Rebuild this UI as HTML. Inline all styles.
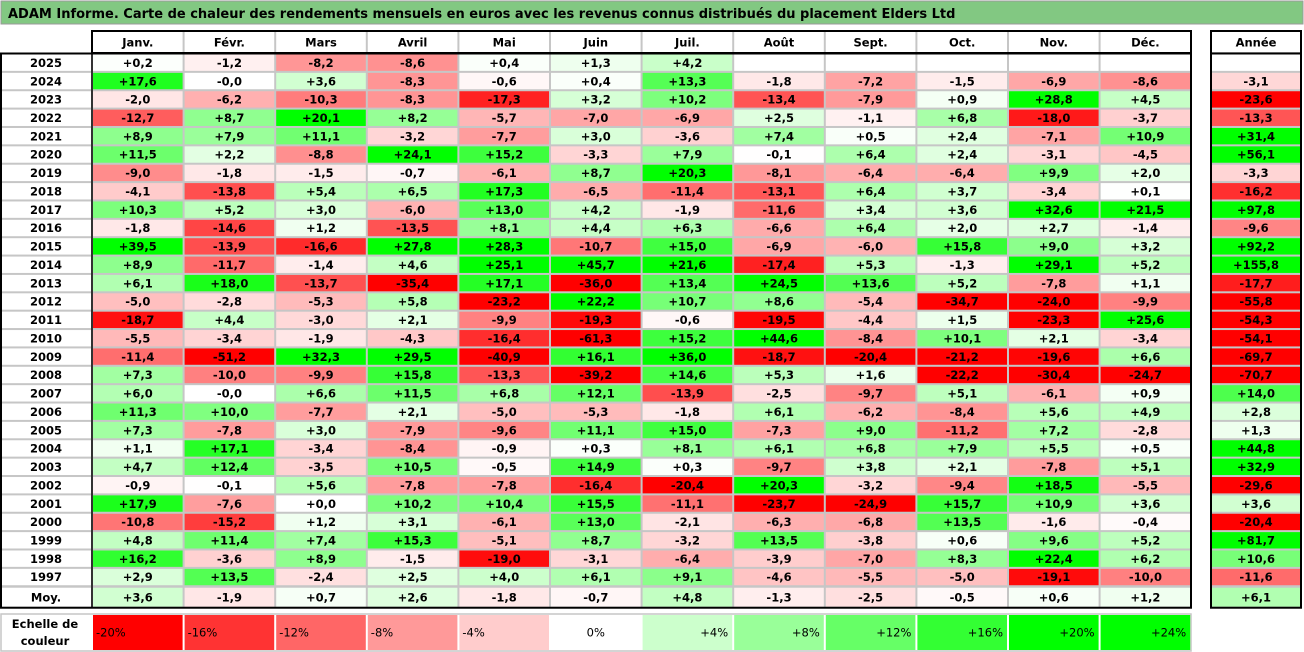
<!DOCTYPE html>
<html><head><meta charset="utf-8"><style>
body{margin:0;background:#fff;}
svg{display:block;font-family:"DejaVu Sans","Liberation Sans",sans-serif;font-weight:bold;}
</style></head><body>
<svg id="c" width="1304" height="652" viewBox="0 0 1304 652" xmlns="http://www.w3.org/2000/svg">
<rect x="1" y="1" width="1302" height="23" fill="#82c882" stroke="#9a9a9a"/>
<text x="8" y="18" font-size="13" fill="#000">ADAM Informe. Carte de chaleur des rendements mensuels en euros avec les revenus connus distribués du placement Elders Ltd</text>
<g id="g"></g>
</svg>
<script>
const months=["Janv.","Févr.","Mars","Avril","Mai","Juin","Juil.","Août","Sept.","Oct.","Nov.","Déc."];
const years=["2025","2024","2023","2022","2021","2020","2019","2018","2017","2016","2015","2014","2013","2012","2011","2010","2009","2008","2007","2006","2005","2004","2003","2002","2001","2000","1999","1998","1997"];
const monthly=[
[0.2,-1.2,-8.2,-8.6,0.4,1.3,4.2,null,null,null,null,null],
[17.6,-0.0,3.6,-8.3,-0.6,0.4,13.3,-1.8,-7.2,-1.5,-6.9,-8.6],
[-2.0,-6.2,-10.3,-8.3,-17.3,3.2,10.2,-13.4,-7.9,0.9,28.8,4.5],
[-12.7,8.7,20.1,8.2,-5.7,-7.0,-6.9,2.5,-1.1,6.8,-18.0,-3.7],
[8.9,7.9,11.1,-3.2,-7.7,3.0,-3.6,7.4,0.5,2.4,-7.1,10.9],
[11.5,2.2,-8.8,24.1,15.2,-3.3,7.9,-0.1,6.4,2.4,-3.1,-4.5],
[-9.0,-1.8,-1.5,-0.7,-6.1,8.7,20.3,-8.1,-6.4,-6.4,9.9,2.0],
[-4.1,-13.8,5.4,6.5,17.3,-6.5,-11.4,-13.1,6.4,3.7,-3.4,0.1],
[10.3,5.2,3.0,-6.0,13.0,4.2,-1.9,-11.6,3.4,3.6,32.6,21.5],
[-1.8,-14.6,1.2,-13.5,8.1,4.4,6.3,-6.6,6.4,2.0,2.7,-1.4],
[39.5,-13.9,-16.6,27.8,28.3,-10.7,15.0,-6.9,-6.0,15.8,9.0,3.2],
[8.9,-11.7,-1.4,4.6,25.1,45.7,21.6,-17.4,5.3,-1.3,29.1,5.2],
[6.1,18.0,-13.7,-35.4,17.1,-36.0,13.4,24.5,13.6,5.2,-7.8,1.1],
[-5.0,-2.8,-5.3,5.8,-23.2,22.2,10.7,8.6,-5.4,-34.7,-24.0,-9.9],
[-18.7,4.4,-3.0,2.1,-9.9,-19.3,-0.6,-19.5,-4.4,1.5,-23.3,25.6],
[-5.5,-3.4,-1.9,-4.3,-16.4,-61.3,15.2,44.6,-8.4,10.1,2.1,-3.4],
[-11.4,-51.2,32.3,29.5,-40.9,16.1,36.0,-18.7,-20.4,-21.2,-19.6,6.6],
[7.3,-10.0,-9.9,15.8,-13.3,-39.2,14.6,5.3,1.6,-22.2,-30.4,-24.7],
[6.0,-0.0,6.6,11.5,6.8,12.1,-13.9,-2.5,-9.7,5.1,-6.1,0.9],
[11.3,10.0,-7.7,2.1,-5.0,-5.3,-1.8,6.1,-6.2,-8.4,5.6,4.9],
[7.3,-7.8,3.0,-7.9,-9.6,11.1,15.0,-7.3,9.0,-11.2,7.2,-2.8],
[1.1,17.1,-3.4,-8.4,-0.9,0.3,8.1,6.1,6.8,7.9,5.5,0.5],
[4.7,12.4,-3.5,10.5,-0.5,14.9,0.3,-9.7,3.8,2.1,-7.8,5.1],
[-0.9,-0.1,5.6,-7.8,-7.8,-16.4,-20.4,20.3,-3.2,-9.4,18.5,-5.5],
[17.9,-7.6,0.0,10.2,10.4,15.5,-11.1,-23.7,-24.9,15.7,10.9,3.6],
[-10.8,-15.2,1.2,3.1,-6.1,13.0,-2.1,-6.3,-6.8,13.5,-1.6,-0.4],
[4.8,11.4,7.4,15.3,-5.1,8.7,-3.2,13.5,-3.8,0.6,9.6,5.2],
[16.2,-3.6,8.9,-1.5,-19.0,-3.1,-6.4,-3.9,-7.0,8.3,22.4,6.2],
[2.9,13.5,-2.4,2.5,4.0,6.1,9.1,-4.6,-5.5,-5.0,-19.1,-10.0]];
const annual=[null,-3.1,-23.6,-13.3,31.4,56.1,-3.3,-16.2,97.8,-9.6,92.2,155.8,-17.7,-55.8,-54.3,-54.1,-69.7,-70.7,14.0,2.8,1.3,44.8,32.9,-29.6,3.6,-20.4,81.7,10.6,-11.6];
const avgMonth=[3.6,-1.9,0.7,2.6,-1.8,-0.7,4.8,-1.3,-2.5,-0.5,0.6,1.2];
const avgYear=6.1;
const scaleVals=[-20,-16,-12,-8,-4,0,4,8,12,16,20,24];

const NS="http://www.w3.org/2000/svg";
const g=document.getElementById('g');
function el(t,a,p){const e=document.createElementNS(NS,t);for(const k in a)e.setAttribute(k,a[k]);(p||g).appendChild(e);return e;}
function col(v){if(v===null)return"#fff";let t=Math.min(Math.abs(v)/20,1);const c=Math.round(255*(1-t));const h=c.toString(16).padStart(2,'0');return v<0?"#ff"+h+h:"#"+h+"ff"+h;}
function fmt(v){const s=Math.abs(v).toFixed(1).replace('.',',');return (v<0||Object.is(v,-0)?"-":"+")+s;}
const FS=11.5;
const X0=92,CW=91.6,Y0=53.5,RH=18.37,AX=1211,AW=90;
const xM=i=>X0+i*CW;
const yR=i=>Y0+i*RH;
const moyY=yR(years.length)+0.5, moyH=21;

el('rect',{x:1,y:Y0,width:1190,height:moyY+moyH-Y0,fill:"#c6c6c6"});
el('rect',{x:X0,y:31,width:1099,height:22,fill:"#c6c6c6"});
el('rect',{x:AX,y:31,width:AW,height:moyY+moyH-31,fill:"#c6c6c6"});
months.forEach((m,i)=>{
 const r=el('rect',{x:xM(i)+1,y:32,width:CW-2,height:20,fill:"#fff"});
 
 const t=el('text',{x:xM(i)+CW/2,y:46.5,"font-size":FS,"text-anchor":"middle"});t.textContent=m;
 
});
{el('rect',{x:AX+1,y:32,width:AW-2,height:20,fill:"#fff"});
 const t=el('text',{x:AX+AW/2,y:46.5,"font-size":FS,"text-anchor":"middle"});t.textContent="Année";
 }
function cell(x,y,w,h,v,name){
 const r=el('rect',{x:x+1,y:y+1,width:w-2,height:h-2,fill:col(v)});
 
 if(v!==null){const t=el('text',{x:x+w/2,y:y+h/2+4.2,"font-size":FS,"text-anchor":"middle"});t.textContent=fmt(v);
 }
}
years.forEach((yr,r)=>{
 const y=yR(r);
 el('rect',{x:2,y:y+1,width:X0-3,height:RH-2,fill:"#fff"});
 const t=el('text',{x:46,y:y+RH/2+4.2,"font-size":FS,"text-anchor":"middle"});t.textContent=yr;
 
 monthly[r].forEach((v,i)=>cell(xM(i),y,CW,RH,v,'heat-cell'));
 cell(AX,y,AW,RH,annual[r],'annual-cell');
});
el('rect',{x:2,y:moyY+1,width:X0-3,height:moyH-2,fill:"#fff"});
{const t=el('text',{x:46,y:moyY+moyH/2+4.2,"font-size":FS,"text-anchor":"middle"});t.textContent="Moy.";
 }
avgMonth.forEach((v,i)=>cell(xM(i),moyY,CW,moyH,v,'average-cell'));
cell(AX,moyY,AW,moyH,avgYear,'average-annual-cell');
const bk={fill:"none",stroke:"#000","stroke-width":2};
el('rect',Object.assign({x:X0,y:31,width:1099,height:22},bk));
el('rect',Object.assign({x:1,y:Y0,width:1190,height:moyY+moyH-Y0},bk));
el('line',{x1:X0,y1:Y0,x2:X0,y2:moyY+moyH,stroke:"#000","stroke-width":1.5});
el('rect',Object.assign({x:AX,y:31,width:AW,height:moyY+moyH-31},bk));
el('line',{x1:AX,y1:Y0,x2:AX+AW,y2:Y0,stroke:"#000","stroke-width":2});
const sy=614,sh=37;
el('rect',{x:1,y:sy,width:1190,height:sh,fill:"#fff",stroke:"#c6c6c6","stroke-width":1.5});
{const t1=el('text',{x:45,y:sy+14,"font-size":FS,"text-anchor":"middle"});t1.textContent="Echelle de";
 
 const t2=el('text',{x:45,y:sy+31,"font-size":FS,"text-anchor":"middle"});t2.textContent="couleur";
 }
scaleVals.forEach((v,i)=>{
 const x=xM(i);
 const r=el('rect',{x:x+1,y:sy+1,width:CW-2,height:sh-2,fill:col(v)});
 
 let anchor="middle",tx=x+CW/2,lab="0%";
 if(v<0){anchor="start";tx=x+4;lab=v+"%";} else if(v>0){anchor="end";tx=x+CW-5;lab="+"+v+"%";}
 const t=el('text',{x:tx,y:sy+sh/2+4.2,"font-size":FS,"text-anchor":anchor,"font-weight":"normal"});t.textContent=lab;
 
});
</script>
</body></html>
